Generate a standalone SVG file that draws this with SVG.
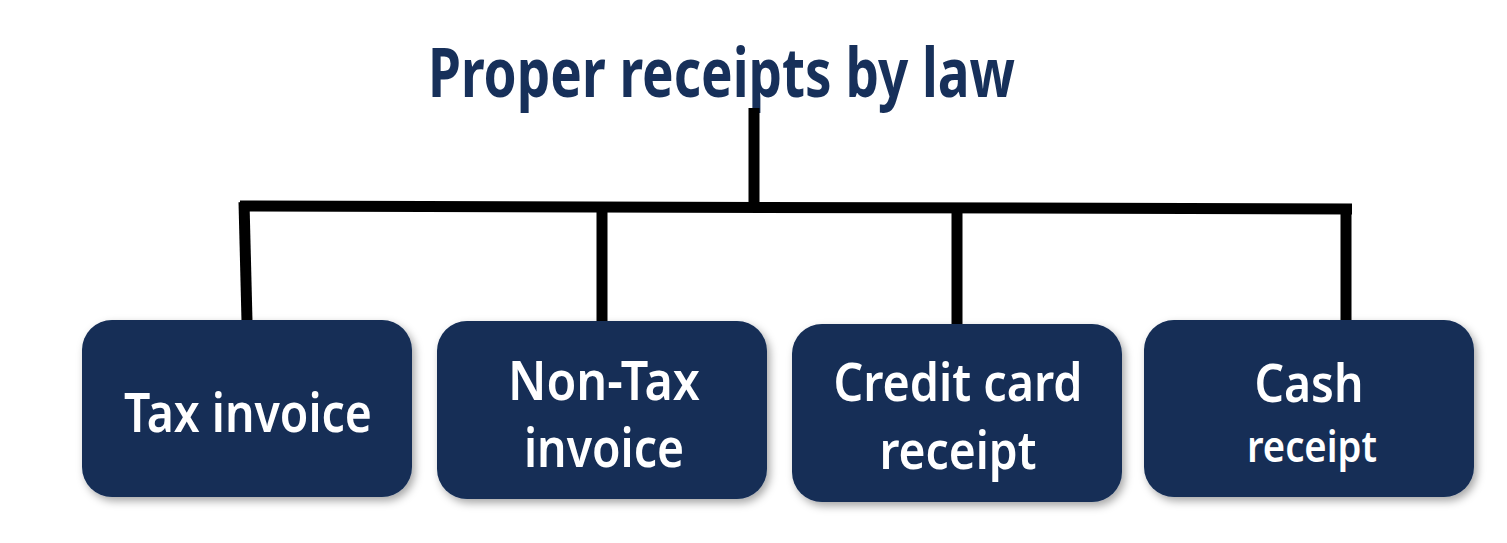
<svg xmlns="http://www.w3.org/2000/svg" width="1507" height="543" viewBox="0 0 1507 543">
<defs>
<style>
.box{fill:#142e57;filter:url(#sh);}
.lbl{font-family:"Noto Sans","Open Sans","Liberation Sans",sans-serif;font-weight:600;fill:#ffffff;text-anchor:middle;}
.title{font-family:"Noto Sans","Open Sans","Liberation Sans",sans-serif;font-weight:700;fill:#17305a;}
.conn{stroke:#000000;stroke-width:11;fill:none;stroke-linecap:butt;}
</style>
<filter id="sh" x="-10%" y="-10%" width="125%" height="130%">
<feDropShadow dx="3" dy="4" stdDeviation="4" flood-color="#000000" flood-opacity="0.35"/>
</filter>
</defs>
<rect width="1507" height="543" fill="#ffffff"/>
<g id="title">
<text class="title" x="428" y="97" font-size="68" textLength="587" lengthAdjust="spacingAndGlyphs">Proper receipts by law</text>
</g>
<g id="connectors">
<line class="conn" x1="754" y1="108" x2="754" y2="206"/>
<line class="conn" x1="240" y1="206" x2="1352" y2="209"/>
<line class="conn" x1="244" y1="202" x2="247" y2="321"/>
<line class="conn" x1="602" y1="207" x2="602" y2="322"/>
<line class="conn" x1="957" y1="208" x2="957" y2="325"/>
<line class="conn" x1="1346" y1="209" x2="1346" y2="321"/>
</g>
<g id="node-tax-invoice">
<rect class="box" x="82" y="320" width="330" height="177" rx="30"/>
<text class="lbl" x="248" y="432" font-size="54" textLength="248" lengthAdjust="spacingAndGlyphs">Tax invoice</text>
</g>
<g id="node-non-tax-invoice">
<rect class="box" x="437" y="321" width="330" height="178" rx="30"/>
<text class="lbl" x="604" y="400" font-size="54" textLength="192" lengthAdjust="spacingAndGlyphs">Non-Tax</text>
<text class="lbl" x="604" y="467" font-size="54" textLength="160" lengthAdjust="spacingAndGlyphs">invoice</text>
</g>
<g id="node-credit-card-receipt">
<rect class="box" x="792" y="324" width="330" height="178" rx="30"/>
<text class="lbl" x="958" y="401" font-size="53" textLength="249" lengthAdjust="spacingAndGlyphs">Credit card</text>
<text class="lbl" x="958" y="469" font-size="53" textLength="157" lengthAdjust="spacingAndGlyphs">receipt</text>
</g>
<g id="node-cash-receipt">
<rect class="box" x="1144" y="320" width="330" height="177" rx="30"/>
<text class="lbl" x="1309" y="402" font-size="52" textLength="109" lengthAdjust="spacingAndGlyphs">Cash</text>
<text class="lbl" x="1312" y="462" font-size="44" textLength="130" lengthAdjust="spacingAndGlyphs">receipt</text>
</g>
</svg>
